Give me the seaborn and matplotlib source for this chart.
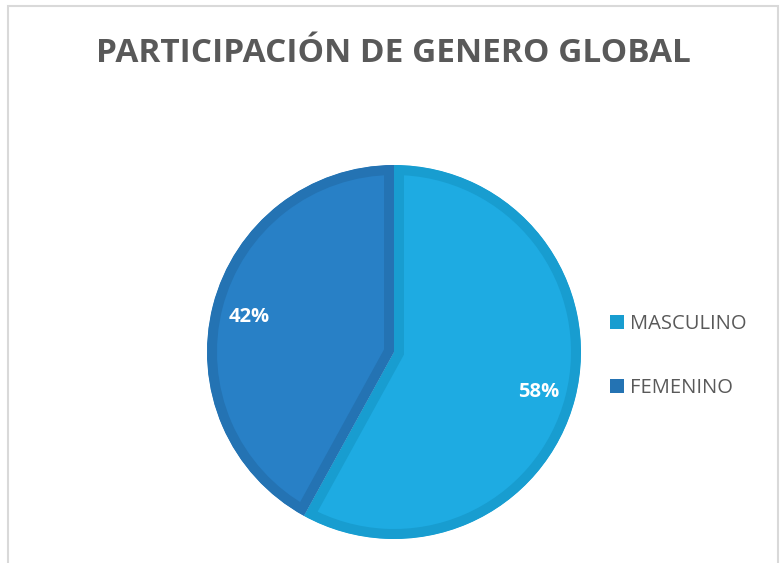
import matplotlib
matplotlib.use("Agg")
import matplotlib.pyplot as plt
import matplotlib.patches as mpatches
import seaborn as sns

# data
categories = ["MASCULINO", "FEMENINO"]
values = [58, 42]
title = "PARTICIPACIÓN DE GENERO GLOBAL"

fill_colors = ["#1EABE2", "#2880C6"]
edge_colors = ["#189DD0", "#2473B3"]

sns.set_theme(style="white")
plt.rcParams['font.family'] = ['Open Sans', 'DejaVu Sans']

W, H = 781, 563
fig = plt.figure(figsize=(W / 100, H / 100), dpi=100)
fig.patch.set_facecolor("white")

# chart frame (bottom edge is cut off in the original)
frame = mpatches.Rectangle((8 / W, -0.05), 770 / W, 1.05 - 6 / H,
                           transform=fig.transFigure, fill=False,
                           edgecolor="#D9D9D9", linewidth=1.5)
fig.patches.append(frame)

fig.text(393 / W, 1 - 62 / H, title, ha="center", va="baseline",
         fontsize=24, fontweight="bold", color="#595959")

cx, cy, r = 394, 352, 187
ax = fig.add_axes([(cx - r) / W, (H - cy - r) / H, 2 * r / W, 2 * r / H])
wedges, texts, autotexts = ax.pie(values, colors=fill_colors, startangle=90,
                                  counterclock=False, autopct='%1.0f%%',
                                  pctdistance=0.8, radius=1,
                                  textprops=dict(color="white", fontsize=14.5,
                                                 fontweight="bold"))
for t in autotexts:
    t.set_va("center_baseline")

# edge drawn only on the inside of each slice
for w, ec in zip(wedges, edge_colors):
    w.set_edgecolor(ec)
    w.set_linewidth(14.4)
    w.set_clip_on(True)
    w.set_clip_path(w)
ax.set_xlim(-1, 1)
ax.set_ylim(-1, 1)
ax.set_aspect("auto")
ax.axis("off")

handles = [mpatches.Patch(facecolor=c, edgecolor="none") for c in edge_colors]
leg = fig.legend(handles, categories, loc="center left",
                 bbox_to_anchor=(592 / W, 1 - 356 / H), frameon=False,
                 fontsize=14.5, handlelength=0.7, handleheight=0.7,
                 handletextpad=0.3, labelspacing=2.2)
for t in leg.get_texts():
    t.set_color("#595959")

fig.savefig("out.png", dpi=100, facecolor="white")
